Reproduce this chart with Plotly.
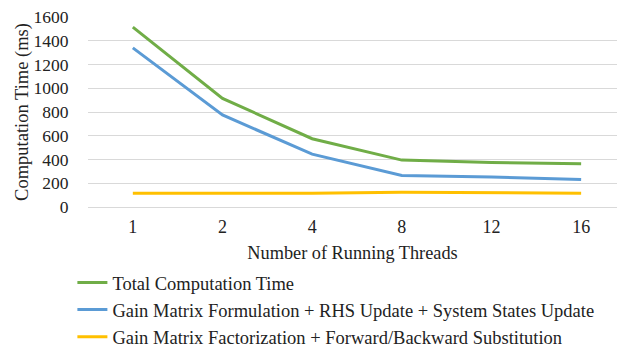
import plotly.graph_objects as go

threads = ["1", "2", "4", "8", "12", "16"]
total_time = [1515, 915, 575, 395, 375, 365]
formulation_update = [1340, 775, 445, 265, 252, 232]
factorization_subst = [115, 115, 115, 125, 118, 115]

series = [
    ("Total Computation Time", total_time, "#70AD47"),
    ("Gain Matrix Formulation + RHS Update + System States Update", formulation_update, "#5B9BD5"),
    ("Gain Matrix Factorization + Forward/Backward Substitution", factorization_subst, "#FFC000"),
]

font_family = "Liberation Serif, Times New Roman, serif"

fig = go.Figure()
for i, (name, vals, color) in enumerate(series):
    fig.add_trace(go.Scatter(
        x=threads, y=vals, name=name, mode="lines", legendgroup=f"g{i}",
        line=dict(color=color, width=3),
    ))

fig.update_layout(
    width=617, height=349,
    margin=dict(l=88, r=0, t=17, b=142),
    paper_bgcolor="white", plot_bgcolor="white",
    font=dict(family=font_family, size=18, color="#222222"),
    showlegend=True,
    legend=dict(
        orientation="v", x=-0.0295, xanchor="left",
        y=1 - 264 / 349, yref="container", yanchor="top",
        font=dict(family=font_family, size=18.5, color="#222222"),
        tracegroupgap=0, itemwidth=30,
        bgcolor="rgba(0,0,0,0)",
    ),
    xaxis=dict(
        type="category", range=[-0.5, 5.4],
        showgrid=False, zeroline=False, showline=False,
        ticks="outside", ticklen=3, tickcolor="rgba(0,0,0,0)",
        tickfont=dict(family=font_family, size=18),
        title=dict(text="Number of Running Threads", standoff=10,
                   font=dict(family=font_family, size=18.3)),
    ),
    yaxis=dict(
        range=[0, 1600], dtick=200,
        showgrid=True, gridcolor="#D9D9D9", gridwidth=1,
        zeroline=True, zerolinecolor="#D9D9D9", zerolinewidth=1,
        showline=False,
        ticks="outside", ticklen=15, tickcolor="rgba(0,0,0,0)",
        tickfont=dict(family=font_family, size=17.5),
        title=dict(text="Computation Time (ms)", standoff=0,
                   font=dict(family=font_family, size=18.5)),
    ),
)

fig.write_html("out.html")
